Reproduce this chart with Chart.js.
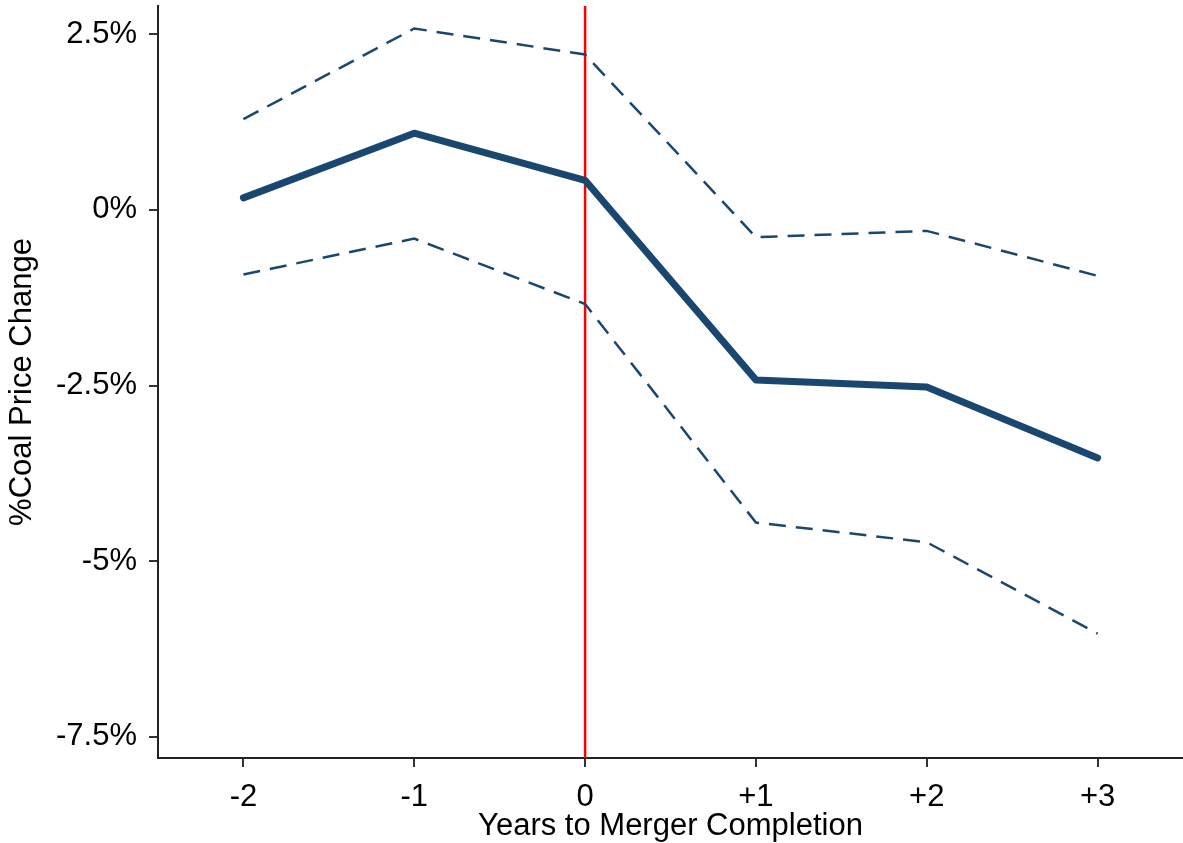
<!DOCTYPE html>
<html>
<head>
<meta charset="utf-8">
<script src="https://cdn.jsdelivr.net/npm/chart.js@4.4.0/dist/chart.umd.min.js"></script>
<style>
  html, body { margin: 0; padding: 0; background: #fff; }
  #wrap { width: 1183px; height: 843px; position: relative; }
</style>
</head>
<body>
<div id="wrap"><canvas id="coalChart"></canvas></div>
<script>
// years relative to merger completion
var years = [-2, -1, 0, 1, 2, 3];
var yearLabels = ['-2', '-1', '0', '+1', '+2', '+3'];

// % coal price change, point estimate and confidence bounds
var estimate = [0.17, 1.09, 0.42, -2.42, -2.52, -3.53];
var upperBound = [1.29, 2.58, 2.21, -0.39, -0.30, -0.94];
var lowerBound = [-0.92, -0.41, -1.34, -4.45, -4.73, -6.03];

var yTicks = [-7.5, -5, -2.5, 0, 2.5];
var yTickLabels = ['-7.5%', '-5%', '-2.5%', '0%', '2.5%'];

var mergerYear = 0;

var navy = '#1a476f';
var fontFamily = 'Liberation Sans, Arial, sans-serif';

function toPoints(vals) {
    return years.map(function(x, i) { return { x: x, y: vals[i] }; });
}

// red vertical line at merger completion, drawn under the series
var mergerLine = {
    id: 'mergerLine',
    beforeDatasetsDraw: function(chart) {
        var c = chart.ctx;
        var area = chart.chartArea;
        var px = chart.scales.x.getPixelForValue(mergerYear);
        c.save();
        c.strokeStyle = '#ff0000';
        c.lineWidth = 2.5;
        c.beginPath();
        c.moveTo(px, area.top);
        c.lineTo(px, area.bottom);
        c.stroke();
        c.restore();
    }
};

var ctx = document.getElementById('coalChart').getContext('2d');

var coalChart = new Chart(ctx, {
    type: 'line',
    data: {
        datasets: [
            {
                label: 'Estimate',
                data: toPoints(estimate),
                borderColor: navy,
                borderWidth: 7,
                borderJoinStyle: 'round',
                borderCapStyle: 'round',
                pointRadius: 0,
                fill: false
            },
            {
                label: 'Upper',
                data: toPoints(upperBound),
                borderColor: navy,
                borderWidth: 2.5,
                borderDash: [17, 10],
                pointRadius: 0,
                fill: false
            },
            {
                label: 'Lower',
                data: toPoints(lowerBound),
                borderColor: navy,
                borderWidth: 2.5,
                borderDash: [17, 10],
                pointRadius: 0,
                fill: false
            }
        ]
    },
    options: {
        responsive: true,
        maintainAspectRatio: false,
        animation: false,
        layout: { padding: { top: 6, right: 0, bottom: 0, left: 0 } },
        plugins: {
            legend: { display: false },
            tooltip: { enabled: false }
        },
        scales: {
            x: {
                type: 'linear',
                min: -2.5,
                max: 3.5,
                afterBuildTicks: function(scale) {
                    scale.ticks = years.map(function(v) { return { value: v }; });
                },
                afterFit: function(scale) {
                    scale.height = 85;
                    scale.paddingLeft = 0;
                    scale.paddingRight = 0;
                },
                ticks: {
                    color: '#000',
                    font: { family: fontFamily, size: 31 },
                    padding: 12,
                    maxRotation: 0,
                    autoSkip: false,
                    callback: function(value, index) { return yearLabels[index]; }
                },
                grid: {
                    drawOnChartArea: false,
                    drawTicks: true,
                    tickLength: 9,
                    color: '#333',
                    lineWidth: 2
                },
                border: { display: true, color: '#222', width: 2 },
                title: {
                    display: true,
                    text: 'Years to Merger Completion',
                    color: '#000',
                    font: { family: fontFamily, size: 31 },
                    padding: { top: 0, bottom: -2 }
                }
            },
            y: {
                min: -7.8,
                max: 2.9,
                afterBuildTicks: function(scale) {
                    scale.ticks = yTicks.map(function(v) { return { value: v }; });
                },
                afterFit: function(scale) {
                    scale.width = 158;
                    scale.paddingTop = 0;
                    scale.paddingBottom = 0;
                },
                ticks: {
                    color: '#000',
                    font: { family: fontFamily, size: 31 },
                    padding: 12,
                    callback: function(value, index) { return yTickLabels[index]; }
                },
                grid: {
                    drawOnChartArea: false,
                    drawTicks: true,
                    tickLength: 9,
                    color: '#333',
                    lineWidth: 2
                },
                border: { display: true, color: '#222', width: 2 },
                title: {
                    display: true,
                    text: '%Coal Price Change',
                    color: '#000',
                    font: { family: fontFamily, size: 31 },
                    padding: { top: 4, bottom: 0 }
                }
            }
        }
    },
    plugins: [mergerLine]
});
</script>
</body>
</html>
